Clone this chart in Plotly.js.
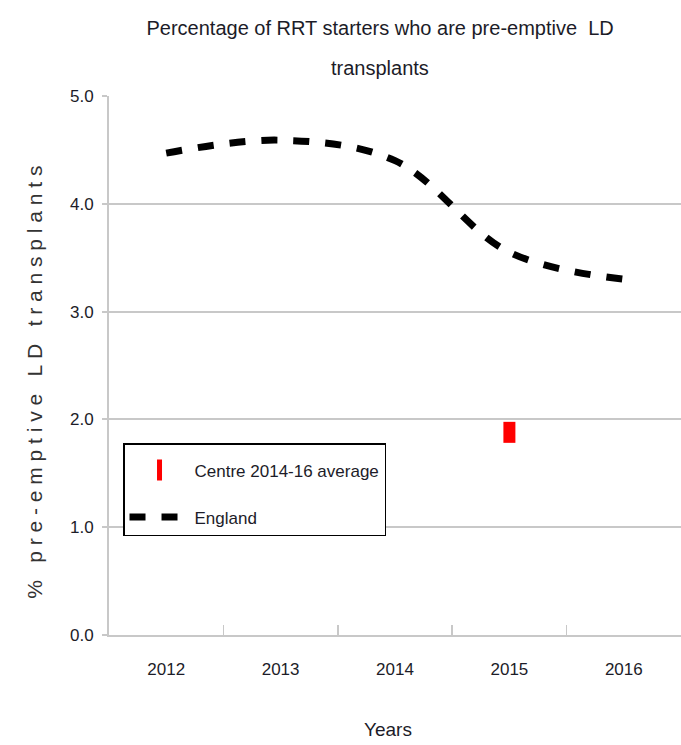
<!DOCTYPE html>
<html>
<head>
<meta charset="utf-8">
<script src="https://cdn.plot.ly/plotly-3.0.1.min.js"></script>
<style>
html,body{margin:0;padding:0;background:#fff;}
#chart{width:681px;height:745px;}
.annotation[data-index="1"] text{letter-spacing:5.8px;}
</style>
</head>
<body>
<div id="chart"></div>
<script>
const years = ['2012','2013','2014','2015','2016'];
const englandValues = [4.47, 4.59, 4.40, 3.55, 3.30];
const centreYears = ['2015'];
const centreValues = [1.88];
const tickVals = [0,1,2,3,4,5];
const titleLine1 = 'Percentage of RRT starters who are pre-emptive  LD';
const titleLine2 = 'transplants';
const yTitle = '% pre-emptive LD transplants';
const xTitle = 'Years';

const sans = '"Liberation Sans", Arial, sans-serif';
const txtColor = '#1c1c28';
const gridColor = '#c8c8c8';

const traces = [
  {
    x: centreYears, y: centreValues, type: 'scatter', mode: 'markers',
    name: 'Centre 2014-16 average', legendgroup: 'a',
    marker: {symbol: 'line-ns', size: 15, color: '#ff0000', line: {color: '#ff0000', width: 12}}
  },
  {
    x: years, y: englandValues, type: 'scatter', mode: 'lines',
    name: 'England', legendgroup: 'b',
    line: {color: '#000000', width: 7, dash: '16px,16px', shape: 'spline', smoothing: 1}
  }
];

const layout = {
  width: 681, height: 745,
  margin: {l: 109, r: 0, t: 96, b: 110},
  paper_bgcolor: '#ffffff', plot_bgcolor: '#ffffff',
  showlegend: true,
  title: {
    text: titleLine1,
    font: {family: sans, size: 20, color: txtColor},
    x: 0.474, xref: 'paper', xanchor: 'center', y: 0.962, yref: 'container', yanchor: 'middle'
  },
  annotations: [
    {
      text: titleLine2, showarrow: false,
      xref: 'paper', yref: 'paper', x: 0.474, y: 1.052, xanchor: 'center', yanchor: 'middle',
      font: {family: sans, size: 20, color: txtColor}
    },
    {
      text: yTitle, showarrow: false, textangle: -90,
      xref: 'paper', yref: 'paper', x: -0.13, y: 0.475, xanchor: 'center', yanchor: 'middle',
      font: {family: sans, size: 21, color: '#333333'}
    },
    {
      text: xTitle, showarrow: false,
      xref: 'paper', yref: 'paper', x: 0.488, y: -0.176, xanchor: 'center', yanchor: 'middle',
      font: {family: sans, size: 19, color: txtColor}
    }
  ],
  xaxis: {
    type: 'category', categoryorder: 'array', categoryarray: years,
    range: [-0.5, 4.5],
    showgrid: false, zeroline: false,
    showline: true, linecolor: gridColor, linewidth: 2,
    ticks: 'inside', tickson: 'boundaries', ticklen: 10, tickcolor: gridColor, tickwidth: 1.5,
    tickfont: {family: sans, size: 17, color: txtColor},
    ticklabelstandoff: 18
  },
  yaxis: {
    range: [0, 5], tickvals: tickVals, tickformat: '.1f',
    showgrid: true, gridcolor: gridColor, gridwidth: 2,
    zeroline: false,
    showline: true, linecolor: gridColor, linewidth: 2,
    ticks: 'outside', ticklen: 5, tickcolor: gridColor, tickwidth: 2,
    tickfont: {family: sans, size: 17, color: txtColor},
    ticklabelstandoff: 5
  },
  legend: {
    x: 0.0245, xanchor: 'left', y: 0.356, yanchor: 'top',
    bgcolor: '#ffffff', bordercolor: '#000000', borderwidth: 1.5,
    font: {family: sans, size: 17, color: txtColor},
    title: {text: ' ', font: {family: sans, size: 6}},
    traceorder: 'grouped', tracegroupgap: 22,
    itemwidth: 60
  }
};

Plotly.newPlot('chart', traces, layout, {staticPlot: true, displayModeBar: false});
</script>
</body>
</html>
